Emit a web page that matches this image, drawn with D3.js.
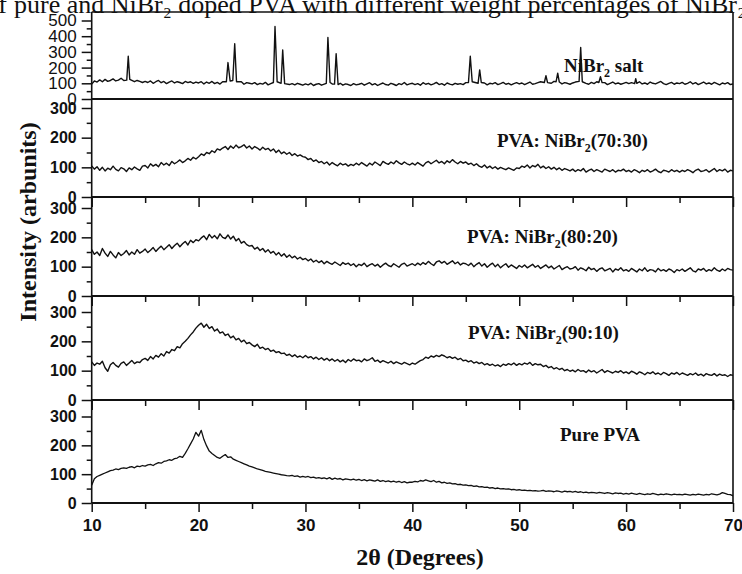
<!DOCTYPE html>
<html><head><meta charset="utf-8">
<script src="https://cdn.jsdelivr.net/npm/d3@7"></script>
<style>
html,body{margin:0;padding:0;background:#fff;}
svg{display:block;}
</style></head>
<body>
<script>
// ---- DATA ----
// 2θ grid step used by the sampled curves (10° .. 70°, every 0.25°)
const gridStart = 10, gridStep = 0.25;

// NiBr2 salt: baseline samples + sharp diffraction peaks
const saltBaseline = [
 95,115,108,122,110,125,112,118,128,115,120,132,118,125,115,122,110,118,112,105,
 112,105,115,100,110,118,104,112,98,108,115,102,110,105,98,112,104,110,100,108,
 102,110,96,108,100,112,98,106,95,110,104,100,108,96,105,98,110,94,104,100,
 96,104,92,100,95,106,90,98,102,94,100,88,96,104,92,98,90,100,94,88,
 96,90,100,86,94,98,88,95,102,90,96,85,94,100,88,96,92,86,98,90,
 94,100,88,96,104,90,98,86,95,102,92,88,100,94,86,98,92,105,90,96,
 100,92,98,88,104,94,100,90,96,106,92,98,88,102,95,90,100,94,98,92,
 104,96,100,92,108,98,94,102,90,100,96,104,92,98,106,94,100,90,98,104,
 96,102,92,100,108,94,98,104,110,96,102,92,100,112,98,106,96,104,100,94,
 102,108,96,104,112,100,94,106,98,110,102,96,104,92,100,108,96,102,94,100,
 106,98,104,92,100,110,96,102,94,108,100,96,104,112,98,92,100,106,94,102,
 98,106,94,100,110,96,104,92,100,108,96,102,94,106,98,90,102,96,104,92,
 96];
const saltPeakAngles = [
 13.28,13.42,13.56, 22.6,22.75,22.95, 23.2,23.38,23.55,
 27.0,27.15,27.35, 27.72,27.87,28.05, 31.95,32.1,32.3, 32.72,32.87,33.05,
 45.25,45.42,45.6, 46.15,46.3,46.45, 52.35,52.5,52.65, 53.45,53.6,53.75,
 55.6,55.75,55.9, 57.45,57.6,57.75, 60.8,60.9,61.0];
const saltPeakValues = [
 120,272,125, 110,232,115, 118,352,110,
 105,462,110, 100,312,98, 100,392,105, 95,288,92,
 105,272,110, 100,185,105, 105,148,104, 110,165,108,
 112,328,110, 105,142,104, 98,130,100];

const pva7030 = [
 105,94,102,90,100,88,97,92,104,93,88,99,95,86,98,92,101,95,90,104,
 106,98,112,104,110,102,116,108,114,106,120,112,118,125,116,122,130,124,134,128,
 136,145,140,150,146,156,150,162,158,165,170,160,172,164,175,166,170,176,165,172,
 162,170,165,158,168,160,164,155,162,150,158,146,152,144,150,140,146,138,142,136,
 134,126,130,120,125,116,120,112,118,108,116,110,105,114,108,112,104,110,106,114,
 108,116,110,104,114,108,118,112,106,120,114,110,118,112,122,115,110,118,112,108,
 114,108,116,110,104,115,120,112,118,124,115,120,112,122,116,126,118,112,120,114,
 118,110,114,106,112,104,100,108,98,104,96,102,94,100,96,92,98,94,90,98,
 96,104,100,108,98,106,102,110,98,104,96,102,94,100,92,98,90,96,92,88,
 94,86,92,88,96,84,90,94,86,92,88,84,94,90,86,92,84,90,88,94,
 86,90,84,92,88,82,90,86,92,84,88,94,86,82,90,88,84,92,86,90,
 84,90,86,92,88,82,90,94,86,88,92,84,90,96,86,92,88,94,84,90,
 88];

const pva8020 = [
 158,142,150,138,162,146,135,152,140,130,148,138,145,155,140,150,142,158,146,152,
 160,148,156,165,152,162,170,158,166,175,162,172,180,168,178,186,174,190,182,192,
 188,198,205,192,210,198,206,195,212,200,196,208,194,204,188,196,180,186,175,170,
 172,160,166,155,162,150,158,146,152,140,148,136,144,132,140,130,136,126,132,124,
 128,120,126,116,122,114,120,110,118,112,108,116,110,104,114,108,112,104,110,100,
 108,104,112,100,106,110,102,108,98,106,112,104,100,110,104,98,108,112,102,106,
 110,104,112,106,114,108,118,110,104,116,120,112,118,108,114,120,110,116,106,112,
 110,104,112,100,108,114,102,110,98,106,112,100,108,96,104,110,98,106,100,94,
 104,98,106,96,102,108,98,104,94,100,106,96,102,92,98,104,90,96,100,92,
 94,100,88,96,92,86,98,90,94,84,92,96,86,90,94,82,92,88,96,86,
 90,84,94,88,82,92,86,96,84,90,88,82,94,86,90,84,92,88,80,90,
 86,92,84,90,96,86,82,92,88,94,84,90,86,96,88,84,92,86,94,90,
 88];

const pva9010 = [
 130,118,126,122,132,110,98,120,128,118,112,125,130,118,126,135,124,130,128,138,
 142,135,148,140,152,146,158,150,165,160,172,168,182,178,192,200,210,222,232,245,
 255,262,248,258,244,250,235,242,228,232,220,225,212,218,205,210,198,204,192,196,
 188,182,190,176,180,172,176,166,170,162,165,158,160,152,156,148,154,146,150,144,
 152,144,148,140,146,138,144,136,142,134,140,132,138,130,136,128,138,132,140,134,
 136,130,140,134,138,144,132,136,128,134,130,126,132,124,130,126,122,128,124,120,
 126,122,128,134,138,146,142,150,146,152,148,154,150,144,148,142,146,138,142,134,
 136,130,134,126,130,124,128,120,124,118,122,116,120,114,122,118,124,120,126,118,
 124,120,126,122,128,118,124,120,122,114,118,110,114,106,110,104,108,100,104,98,
 102,96,104,98,100,94,102,96,100,92,98,104,94,100,96,92,98,94,100,92,
 96,90,98,94,88,96,92,86,94,90,96,88,92,86,94,90,84,92,88,94,
 86,92,88,84,90,86,92,84,88,82,90,86,84,90,82,88,84,86,80,86,
 84];

const purePVA = [
 62,84,92,96,100,104,108,112,114,118,116,120,122,120,124,126,122,128,126,130,
 128,132,134,130,136,140,138,144,146,150,148,154,156,162,158,172,188,205,222,245,
 232,252,220,198,180,172,165,158,155,162,168,158,160,152,148,144,140,136,132,128,
 125,122,118,116,113,110,108,106,104,102,100,98,97,95,94,96,92,94,90,92,
 90,92,88,90,86,88,85,87,84,88,82,86,83,85,80,84,82,80,83,79,
 82,78,81,77,80,78,76,80,75,78,74,77,73,76,72,75,71,74,70,72,
 72,75,73,78,76,80,77,74,78,72,75,70,72,68,70,66,67,64,65,62,
 63,60,61,58,59,56,57,54,55,52,53,50,52,49,50,48,49,46,47,45,
 46,44,45,43,44,42,43,41,42,44,40,42,41,39,42,40,38,41,39,40,
 38,40,37,39,36,38,35,37,36,34,37,35,33,36,34,32,35,33,34,31,
 33,31,34,32,30,33,31,29,32,30,33,31,28,31,29,32,30,28,31,29,
 30,28,31,29,27,30,28,31,29,27,30,28,32,30,28,31,36,33,30,29,
 25];

const xTicks = [10,20,30,40,50,60,70];
const xMinorTicks = [15,25,35,45,55,65];
const saltTicks = [0,100,200,300,400,500];
const saltMinorTicks = [50,150,250,350,450];
const pvaTicks = [0,100,200,300];
const pvaMinorTicks = [50,150,250];
const panelLabels = [
 {main:"NiBr", sub:"2", rest:" salt"},
 {main:"PVA: NiBr", sub:"2", rest:"(70:30)"},
 {main:"PVA: NiBr", sub:"2", rest:"(80:20)"},
 {main:"PVA: NiBr", sub:"2", rest:"(90:10)"},
 {main:"Pure PVA", sub:"", rest:""}
];
const titleLead = "XRD patterns of";
const titleMain = "pure and NiBr\u2082 doped PVA with different weight percentages of NiBr\u2082";
const xTitle = "2\u03b8 (Degrees)";
const yTitle = "Intensity (arbunits)";

// ---- BUILD ----
const W = 742, H = 574;
const svg = d3.select("body").append("svg").attr("width", W).attr("height", H)
  .style("background", "#fff");

const x = d3.scaleLinear().domain([10, 70]).range([91.7, 733]);
const toPts = arr => arr.map((v, i) => [gridStart + i * gridStep, v]);

const saltPts = (() => {
  const base = toPts(saltBaseline).filter(p => !saltPeakAngles.some(a => Math.abs(a - p[0]) < 0.2));
  const peaks = saltPeakAngles.map((a, i) => [a, saltPeakValues[i]]);
  return base.concat(peaks).sort((a, b) => a[0] - b[0]);
})();

const panels = [
  {top: 12, bottom: 99, y: d3.scaleLinear().domain([0, 500]).range([99, 20.5]), data: saltPts,
   ticks: saltTicks, minor: saltMinorTicks, tickFont: "normal", tickSize: 17, labelX: 564, labelY: 72, xAxisTicks: false},
  {top: 99, bottom: 197, y: d3.scaleLinear().domain([0, 300]).range([197, 108]), data: toPts(pva7030),
   ticks: pvaTicks, minor: pvaMinorTicks, tickFont: "bold", tickSize: 16, labelX: 497, labelY: 147, xAxisTicks: true},
  {top: 197, bottom: 296, y: d3.scaleLinear().domain([0, 300]).range([296, 208]), data: toPts(pva8020),
   ticks: pvaTicks, minor: pvaMinorTicks, tickFont: "bold", tickSize: 16, labelX: 467, labelY: 243, xAxisTicks: true},
  {top: 296, bottom: 400, y: d3.scaleLinear().domain([0, 300]).range([400, 312]), data: toPts(pva9010),
   ticks: pvaTicks, minor: pvaMinorTicks, tickFont: "bold", tickSize: 16, labelX: 468, labelY: 339, xAxisTicks: true},
  {top: 400, bottom: 503, y: d3.scaleLinear().domain([0, 300]).range([503, 416.5]), data: toPts(purePVA),
   ticks: pvaTicks, minor: pvaMinorTicks, tickFont: "bold", tickSize: 16, labelX: 560, labelY: 441, xAxisTicks: true}
];

const defs = svg.append("defs");
defs.append("clipPath").attr("id", "plotclip").append("rect")
  .attr("x", x(10)).attr("y", 12).attr("width", x(70) - x(10)).attr("height", 503 - 12);

const sans = "'Liberation Sans', Arial, sans-serif";
const serif = "'Liberation Serif', 'Times New Roman', serif";

panels.forEach((p, i) => {
  const g = svg.append("g");
  const line = d3.line().x(d => x(d[0])).y(d => p.y(d[1]));
  g.append("path").datum(p.data).attr("d", line)
    .attr("fill", "none").attr("stroke", "#111").attr("stroke-width", i === 4 ? 1.3 : 1.4)
    .attr("stroke-linejoin", "round").attr("clip-path", "url(#plotclip)");

  const ya = g.append("g").attr("transform", `translate(${x(10)},0)`)
    .call(d3.axisLeft(p.y).tickValues(p.ticks).tickSize(10).tickPadding(5).tickFormat(d3.format("d")));
  ya.select(".domain").remove();
  ya.selectAll("line").attr("stroke", "#111").attr("stroke-width", 1.5);
  ya.selectAll("text").attr("font-family", sans).attr("font-size", p.tickSize)
    .attr("font-weight", p.tickFont).attr("fill", "#111");
  const ym = g.append("g").attr("transform", `translate(${x(10)},0)`)
    .call(d3.axisLeft(p.y).tickValues(p.minor).tickSize(5).tickFormat(""));
  ym.select(".domain").remove();
  ym.selectAll("line").attr("stroke", "#111").attr("stroke-width", 1.5);

  if (p.xAxisTicks) {
    const isLast = i === panels.length - 1;
    const xa = g.append("g").attr("transform", `translate(0,${p.bottom})`)
      .call(d3.axisBottom(x).tickValues(xTicks).tickSize(isLast ? 9 : 10).tickPadding(7)
        .tickFormat(isLast ? d3.format("d") : ""));
    xa.select(".domain").remove();
    xa.selectAll("line").attr("stroke", "#111").attr("stroke-width", 1.5);
    xa.selectAll("text").attr("font-family", sans).attr("font-size", 17)
      .attr("font-weight", "bold").attr("fill", "#111");
    const xm = g.append("g").attr("transform", `translate(0,${p.bottom})`)
      .call(d3.axisBottom(x).tickValues(xMinorTicks).tickSize(6).tickFormat(""));
    xm.select(".domain").remove();
    xm.selectAll("line").attr("stroke", "#111").attr("stroke-width", 1.5);
  }

  g.append("line").attr("x1", x(10)).attr("x2", x(70)).attr("y1", p.bottom).attr("y2", p.bottom)
    .attr("stroke", "#111").attr("stroke-width", 2);

  const lb = panelLabels[i];
  const t = g.append("text").attr("x", p.labelX).attr("y", p.labelY)
    .attr("font-family", serif).attr("font-weight", "bold").attr("font-size", 19).attr("fill", "#111");
  t.append("tspan").text(lb.main);
  if (lb.sub) {
    t.append("tspan").attr("dy", 5).attr("font-size", 12).text(lb.sub);
    t.append("tspan").attr("dy", -5).text(lb.rest);
  }
});

svg.append("line").attr("x1", x(10)).attr("x2", x(10)).attr("y1", 12).attr("y2", 503)
  .attr("stroke", "#111").attr("stroke-width", 1.6);
svg.append("line").attr("x1", x(70)).attr("x2", x(70)).attr("y1", 12).attr("y2", 503)
  .attr("stroke", "#111").attr("stroke-width", 1.6);
svg.append("line").attr("x1", x(10)).attr("x2", x(70)).attr("y1", 12).attr("y2", 12)
  .attr("stroke", "#111").attr("stroke-width", 1.4);

// title (clipped by the page edges like the source image)
svg.append("text").attr("x", 7).attr("y", 13).attr("text-anchor", "end")
  .attr("font-family", serif).attr("font-size", 26).attr("fill", "#111").text(titleLead);
svg.append("text").attr("x", 14).attr("y", 13)
  .attr("font-family", serif).attr("font-size", 26).attr("fill", "#111").text(titleMain);

svg.append("text").attr("x", 420).attr("y", 565).attr("text-anchor", "middle")
  .attr("font-family", serif).attr("font-weight", "bold").attr("font-size", 24).attr("fill", "#111")
  .text(xTitle);
svg.append("text").attr("transform", "translate(36,222) rotate(-90)").attr("text-anchor", "middle")
  .attr("font-family", serif).attr("font-weight", "bold").attr("font-size", 24).attr("fill", "#111")
  .text(yTitle);
</script>
</body></html>
